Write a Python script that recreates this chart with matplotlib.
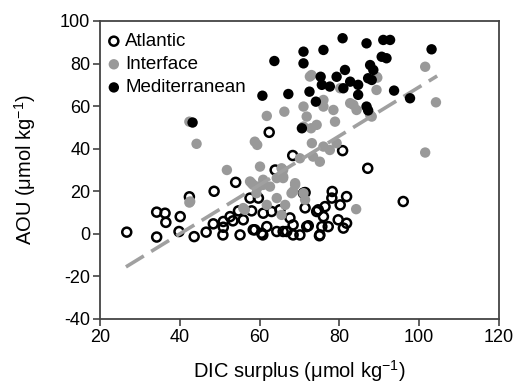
import matplotlib
matplotlib.use("Agg")
import matplotlib.pyplot as plt
import numpy as np

plt.rcParams['font.family'] = ['Liberation Sans', 'DejaVu Sans']
plt.rcParams['axes.unicode_minus'] = False
plt.rcParams['mathtext.fontset'] = 'custom'
plt.rcParams['mathtext.rm'] = 'Liberation Sans'
plt.rcParams['mathtext.it'] = 'Liberation Sans'
plt.rcParams['mathtext.default'] = 'regular'

# Atlantic (open circles)
atl_x = [26.7, 34.2, 36.3, 36.5, 40.1, 34.2, 39.8, 43.6, 42.4, 48.6, 54.0, 46.6, 48.4, 50.9,
         50.8, 52.6, 53.3, 54.7, 55.1, 55.9, 58.4, 58.0, 60.8, 61.8, 64.3, 65.9, 68.4, 70.1,
         67.6, 68.4, 71.4, 71.0, 68.3, 63.9, 59.7, 63.0, 65.1, 60.9, 71.8, 60.5, 66.8, 71.4,
         74.3, 76.0, 76.4, 75.6, 75.1, 77.2, 78.2, 78.1, 80.2, 81.8, 79.7, 81.8, 81.0, 96.0,
         87.1, 62.4, 80.8, 72.2, 75.0, 58.8, 57.6, 50.9, 74.7]
atl_y = [0.8, 10.2, 9.7, 5.4, 8.1, -1.5, 1.1, -1.3, 17.4, 20.0, 24.2, 0.8, 4.7, 3.1,
         -0.5, 8.1, 6.1, 10.8, -0.5, 6.6, 1.9, 10.8, -0.5, 3.4, 1.1, 1.1, -0.5, -0.5,
         7.5, 4.2, 12.2, 19.1, 36.8, 30.0, 16.8, 10.5, 11.3, 9.7, 3.4, 0.3, 1.1, 19.4,
         10.5, 8.1, 12.8, 3.4, -0.5, 3.4, 19.9, 16.8, 13.6, 17.5, 6.6, 5.0, 2.7, 15.2,
         30.8, 47.7, 39.1, 3.8, -0.9, 1.9, 16.8, 5.8, 11.3]

# Interface (gray)
int_x = [42.4, 44.2, 61.8, 66.2, 58.8, 59.4, 51.8, 60.1, 65.5, 71.0, 72.6, 57.6, 60.9, 59.7,
         64.3, 62.6, 71.8, 76.0, 78.5, 78.9, 83.5, 74.3, 71.0, 73.1, 76.0, 77.6, 73.4, 75.1,
         70.1, 79.3, 65.9, 68.9, 65.9, 73.0, 72.9, 82.7, 84.3, 89.3, 89.3, 80.2, 87.7, 101.5,
         104.2, 101.5, 89.5, 88.1, 42.4, 58.4, 60.9, 64.3, 61.8, 66.4, 68.0, 68.9, 71.0, 56.3,
         65.5, 71.4, 84.2, 58.0, 65.9, 55.9, 68.4, 59.2, 42.6, 76.0]
int_y = [52.7, 42.3, 55.4, 57.4, 43.3, 41.8, 30.0, 31.6, 30.8, 59.8, 73.9, 24.6, 25.4, 22.2,
         26.2, 22.2, 55.1, 59.8, 58.2, 52.7, 60.6, 51.2, 50.4, 42.6, 41.0, 39.4, 36.3, 33.9,
         35.5, 42.6, 30.0, 23.8, 26.2, 74.6, 49.6, 61.4, 58.2, 67.6, 73.8, 68.4, 55.9, 78.5,
         61.8, 38.2, 73.4, 55.1, 14.7, 23.0, 23.0, 16.8, 13.6, 13.6, 19.1, 23.0, 19.1, 11.3,
         8.9, 16.0, 11.6, 23.8, 26.9, 12.1, 19.9, 19.1, 15.2, 62.9]

# Mediterranean (black)
med_x = [43.2, 63.7, 71.0, 71.0, 60.7, 67.2, 70.6, 76.0, 80.8, 86.8, 91.0, 92.7, 90.6, 91.8,
         87.7, 88.5, 103.1, 72.5, 75.3, 75.6, 77.6, 79.3, 81.4, 81.0, 82.7, 84.7, 84.7, 87.2,
         93.7, 97.7, 74.1, 86.8, 87.2, 88.1]
med_y = [52.3, 81.2, 85.6, 80.1, 64.9, 65.7, 49.6, 86.4, 91.9, 89.5, 91.1, 91.1, 83.2, 82.5,
         79.3, 77.0, 86.7, 66.8, 73.8, 70.0, 69.2, 73.8, 77.0, 68.4, 71.5, 70.0, 65.3, 73.1,
         67.3, 63.7, 62.1, 59.8, 58.0, 72.3]

# Regression line
fit_slope = 1.15
fit_intercept = -46.0
fit_x = [26.5, 104.5]

xticks = [20, 40, 60, 80, 100, 120]
yticks = [-40, -20, 0, 20, 40, 60, 80, 100]

fig = plt.figure(figsize=(5.30, 3.86), dpi=100)
ax = fig.add_axes([0.1887, 0.1736, 0.7528, 0.772])

gray = '#999999'
ax.scatter(atl_x, atl_y, s=42, facecolors='none', edgecolors='black', linewidths=1.8,
           zorder=3, label='Atlantic')
ax.scatter(int_x, int_y, s=56, color=gray, edgecolors='none', zorder=4, label='Interface')
fx = np.array(fit_x)
ax.plot(fx, fit_slope * fx + fit_intercept, color='#a0a0a0', lw=2.6,
        linestyle=(0, (5.8, 2.4)), solid_capstyle='butt', zorder=5)
ax.scatter(med_x, med_y, s=56, color='black', edgecolors='none', zorder=6, label='Mediterranean')

ax.set_xlim(20, 120)
ax.set_ylim(-40, 100)
ax.set_xticks(xticks)
ax.set_yticks(yticks)
ax.tick_params(direction='out', length=5, width=1.1, labelsize=13, color='#333333',
               top=False, right=False, pad=2)
for sp in ax.spines.values():
    sp.set_color('#444444')
    sp.set_linewidth(1.3)

ax.set_xlabel('DIC surplus (\u03bcmol kg$^{-1}$)', fontsize=14.5, labelpad=9)
ax.set_ylabel('AOU (\u03bcmol kg$^{-1}$)', fontsize=14.5, labelpad=16)

leg = ax.legend(loc='upper left', bbox_to_anchor=(-0.01, 0.985), frameon=False,
                fontsize=13.5, handletextpad=0.05, borderaxespad=0.1, labelspacing=0.32,
                handlelength=1.1, borderpad=0.3, scatterpoints=1)

fig.savefig('out.png', dpi=100)
